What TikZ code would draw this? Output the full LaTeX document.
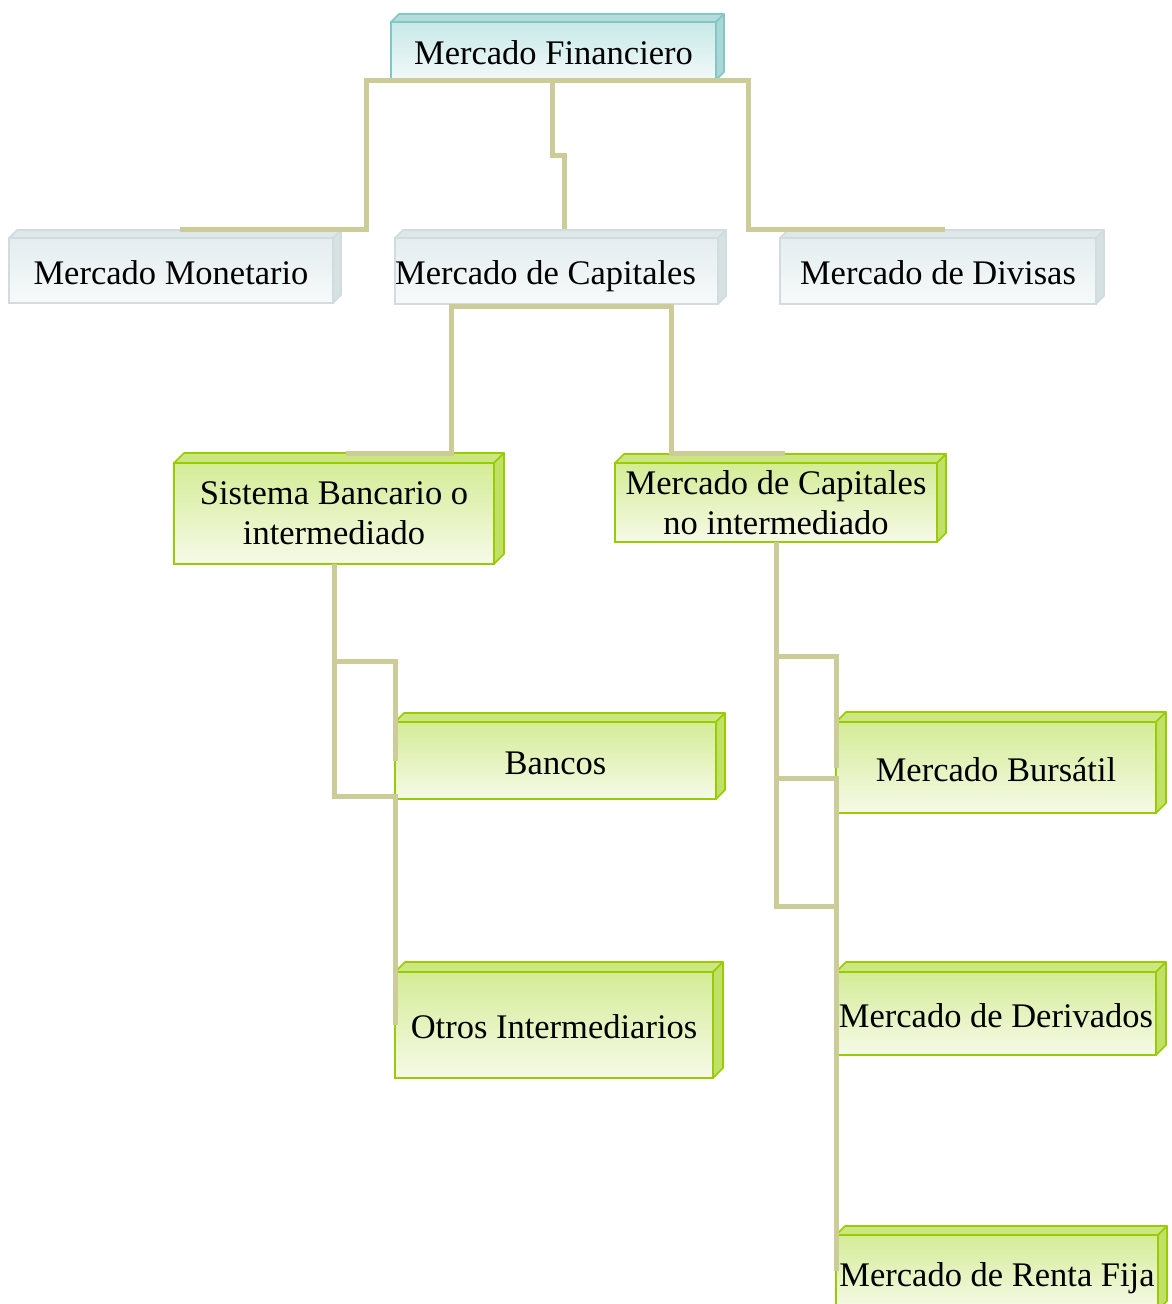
\documentclass[tikz,border=0pt]{standalone}
\usepackage{fontspec}
\setmainfont{Liberation Serif}
\usetikzlibrary{calc}
\definecolor{conncol}{RGB}{204,204,153}
\definecolor{gdraw}{RGB}{153,204,0}
\definecolor{gtop}{RGB}{212,236,150}
\definecolor{gbot}{RGB}{246,250,232}
\definecolor{gface}{RGB}{204,230,128}
\definecolor{gside}{RGB}{192,224,104}
\definecolor{cdraw}{RGB}{130,198,198}
\definecolor{ctop}{RGB}{200,232,232}
\definecolor{cbot}{RGB}{242,249,249}
\definecolor{cface}{RGB}{180,220,220}
\definecolor{cside}{RGB}{170,214,214}
\definecolor{wdraw}{RGB}{208,220,222}
\definecolor{wtop}{RGB}{228,237,239}
\definecolor{wbot}{RGB}{247,250,250}
\definecolor{wface}{RGB}{222,231,233}
\definecolor{wside}{RGB}{214,225,227}
\newcommand\mycuboid[5]{%
  \filldraw[fill=#3,draw=#5,line width=1.6pt,line join=round]
    (#1.north west) -- ++(#2,-#2) -- ($(#1.north east)+(#2,-#2)$) -- (#1.north east) -- cycle;
  \filldraw[fill=#4,draw=#5,line width=1.6pt,line join=round]
    (#1.north east) -- ++(#2,-#2) -- ($(#1.south east)+(#2,-#2)$) -- (#1.south east) -- cycle;
}
\begin{document}
\begin{tikzpicture}[x=1pt,y=-1pt,
  box/.style={rectangle, outer sep=0pt, inner xsep=0pt, inner ysep=0pt,
    line width=1.6pt, align=center, font=\fontsize{34.5}{40}\selectfont},
  oneline/.style={text height=27.6pt, text depth=0pt},
  gbox/.style={box, draw=gdraw, top color=gtop, bottom color=gbot},
  cbox/.style={box, draw=cdraw, top color=ctop, bottom color=cbot},
  wbox/.style={box, draw=wdraw, top color=wtop, bottom color=wbot},
  conn/.style={draw=conncol, line width=5pt}]
\useasboundingbox (0,0) rectangle (1171,1304);
\fill[white] (0,0) rectangle (1171,1304);

% boxes
\node[cbox, oneline, minimum width=325pt, minimum height=58pt] (fin) at (553.5,51) {Mercado Financiero};
\mycuboid{fin}{8}{cface}{cside}{cdraw}
\node[wbox, oneline, minimum width=324pt, minimum height=65pt] (mon) at (171,270.5) {Mercado Monetario};
\mycuboid{mon}{8}{wface}{wside}{wdraw}
\node[wbox, oneline, minimum width=323pt, minimum height=66pt] (cap) at (556.5,271) {\hbox{Mercado de Capitales\kern22pt}};
\mycuboid{cap}{8}{wface}{wside}{wdraw}
\node[wbox, oneline, minimum width=316pt, minimum height=66pt] (div) at (938,271) {Mercado de Divisas};
\mycuboid{div}{8}{wface}{wside}{wdraw}
\node[gbox, minimum width=320pt, minimum height=101pt] (sb) at (334,513.5) {Sistema Bancario o\\intermediado};
\mycuboid{sb}{10}{gface}{gside}{gdraw}
\node[gbox, minimum width=322pt, minimum height=79pt] (mcn) at (776,502.5) {Mercado de Capitales\\no intermediado};
\mycuboid{mcn}{9}{gface}{gside}{gdraw}
\node[gbox, oneline, minimum width=321pt, minimum height=77pt] (ban) at (555.5,760.5) {Bancos};
\mycuboid{ban}{9}{gface}{gside}{gdraw}
\node[gbox, oneline, minimum width=318pt, minimum height=106pt] (otr) at (554,1025) {Otros Intermediarios};
\mycuboid{otr}{10}{gface}{gside}{gdraw}
\node[gbox, oneline, minimum width=320pt, minimum height=91pt] (bur) at (996,767.5) {Mercado Bursátil};
\mycuboid{bur}{10}{gface}{gside}{gdraw}
\node[gbox, oneline, minimum width=320pt, minimum height=83pt] (der) at (996,1013.5) {Mercado de Derivados};
\mycuboid{der}{10}{gface}{gside}{gdraw}
\node[gbox, oneline, minimum width=322pt, minimum height=75pt] (ren) at (997,1272.5) {Mercado de Renta Fija};
\mycuboid{ren}{9}{gface}{gside}{gdraw}

% connectors
\draw[conn] (fin.south) -- ++(-187.5,0) |- ($(mon.north)+(9,-9)$);
\draw[conn] (fin.south) -- ++(-1.5,0) -- ++(0,75) -| ($(cap.north)+(8,-9)$);
\draw[conn] (fin.south) -- ++(194.5,0) |- ($(div.north)+(7,-9)$);
\draw[conn] ($(cap.south)+(0,2)$) -| ($(sb.north)+(117,-10)$) -- ($(sb.north)+(12,-10)$);
\draw[conn] ($(cap.south)+(0,2)$) -| ($(mcn.north)+(-105,-10)$) -- ($(mcn.north)+(9,-10)$);
\draw[conn] (sb.south) -- ++(0,97) -| (ban.west);
\draw[conn] (sb.south) -- ++(0,232) -| (otr.west);
\draw[conn] (mcn.south) -- ++(0,114) -| (bur.west);
\draw[conn] (mcn.south) -- ++(0,236) -| (der.west);
\draw[conn] (mcn.south) -- ++(0,364) -| ($(ren.west)+(0,-2)$);
\end{tikzpicture}
\end{document}
